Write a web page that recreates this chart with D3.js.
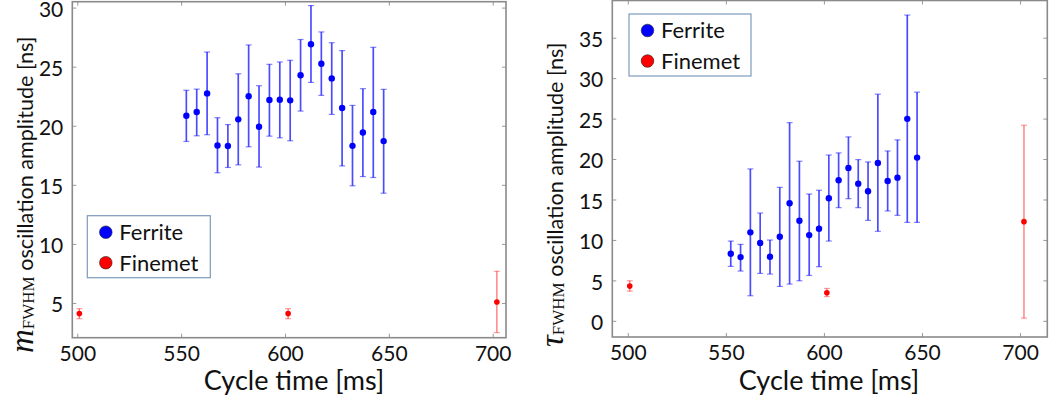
<!DOCTYPE html>
<html>
<head>
<meta charset="utf-8">
<script src="https://cdn.jsdelivr.net/npm/d3@7/dist/d3.min.js"></script>
<style>
  html, body { margin: 0; padding: 0; background: #fff; }
  svg { display: block; }
  text { font-family: Lato, "Open Sans", sans-serif; fill: #111; }
</style>
</head>
<body>
<svg id="chart" width="1051" height="403"></svg>
<script>
// Cycle times of the measurements [ms]
const ferriteCycle = [552.5, 557.5, 562.5, 567.5, 572.5, 577.5, 582.5, 587.5, 592.5, 597.5,
                      602.5, 607.5, 612.5, 617.5, 622.5, 627.5, 632.5, 637.5, 642.5, 647.5];
const finemetCycle = [501, 601.5, 702];

// m_FWHM oscillation amplitude [ns]: value, lower and upper end of error bar
const mFerrite    = [20.85, 21.16, 22.74, 18.33, 18.28, 20.54, 22.5, 19.92, 22.18, 22.2,
                     22.15, 24.27, 26.9, 25.25, 24.01, 21.5, 18.3, 19.43, 21.16, 18.7];
const mFerriteLo  = [18.67, 19.15, 19.24, 16.02, 16.47, 16.69, 18.22, 16.5, 19.12, 18.98,
                     18.73, 21.24, 23.67, 22.57, 20.96, 16.6, 14.92, 15.7, 15.62, 14.29];
const mFerriteHi  = [23.0, 23.1, 26.24, 20.68, 20.1, 24.4, 26.84, 23.39, 25.2, 25.4,
                     25.54, 27.3, 30.17, 27.94, 27.03, 26.36, 21.72, 23.14, 26.64, 23.08];
const mFinemet    = [4.1, 4.1, 5.08];
const mFinemetLo  = [3.67, 3.67, 2.49];
const mFinemetHi  = [4.52, 4.52, 7.68];

// tau_FWHM oscillation amplitude [ns]: value, lower and upper end of error bar
const tFerrite    = [8.3, 7.88, 10.94, 9.62, 7.92, 10.4, 14.53, 12.38, 10.6, 11.39,
                     15.15, 17.38, 18.9, 16.96, 16.01, 19.52, 17.29, 17.7, 24.97, 20.18];
const tFerriteLo  = [6.73, 6.15, 3.1, 5.86, 5.78, 4.25, 4.54, 4.95, 5.61, 6.69,
                     9.86, 13.99, 15.1, 13.99, 12.42, 11.06, 13.58, 13.04, 12.17, 12.17];
const tFerriteHi  = [9.86, 9.45, 18.78, 13.33, 9.99, 16.5, 24.5, 19.73, 15.68, 16.14,
                     20.5, 20.76, 22.74, 19.93, 19.64, 28.02, 21.0, 22.37, 37.8, 28.27];
const tFinemet    = [4.29, 3.47, 12.26];
const tFinemetLo  = [3.67, 3.0, 0.33];
const tFinemetHi  = [4.95, 4.0, 24.18];

// Tick values
const xTicks  = [500, 550, 600, 650, 700];
const mTicks  = [5, 10, 15, 20, 25, 30];
const tTicks  = [0, 5, 10, 15, 20, 25, 30, 35];

const seriesNames = ["Ferrite", "Finemet"];
const seriesColors = ["#0000ff", "#ff0000"];

const svg = d3.select("#chart");

function pack(xs, v, lo, hi) {
  return xs.map((x, i) => ({ x: x, v: v[i], lo: lo[i], hi: hi[i] }));
}

function drawPanel(opt) {
  const g = svg.append("g");
  const x = d3.scaleLinear().domain(opt.xDomain).range([opt.left, opt.right]);
  const y = d3.scaleLinear().domain(opt.yDomain).range([opt.bottom, opt.top]);

  // inward ticks on all four sides
  const tickLen = 4;
  const tickColor = "#999";
  const axB = d3.axisBottom(x).tickValues(xTicks).tickSizeInner(-tickLen).tickSizeOuter(0).tickPadding(8);
  const axT = d3.axisTop(x).tickValues(xTicks).tickSizeInner(-tickLen).tickSizeOuter(0).tickFormat("");
  const axL = d3.axisLeft(y).tickValues(opt.yTicks).tickSizeInner(-tickLen).tickSizeOuter(0).tickPadding(9);
  const axR = d3.axisRight(y).tickValues(opt.yTicks).tickSizeInner(-tickLen).tickSizeOuter(0).tickFormat("");

  const styleAxis = (sel) => {
    sel.select(".domain").remove();
    sel.selectAll(".tick line").attr("stroke", tickColor).attr("stroke-width", 1);
    sel.selectAll(".tick text").attr("font-family", "Lato, sans-serif").attr("font-size", 21).attr("fill", "#111");
  };
  g.append("g").attr("transform", `translate(0,${opt.bottom})`).call(axB).call(styleAxis);
  g.append("g").attr("transform", `translate(0,${opt.top})`).call(axT).call(styleAxis);
  g.append("g").attr("transform", `translate(${opt.left},0)`).call(axL).call(styleAxis)
    .selectAll(".tick text").attr("dy", "0.42em");
  g.append("g").attr("transform", `translate(${opt.right},0)`).call(axR).call(styleAxis);

  // frame
  g.append("rect")
    .attr("x", opt.left).attr("y", opt.top)
    .attr("width", opt.right - opt.left).attr("height", opt.bottom - opt.top)
    .attr("fill", "none").attr("stroke", "#8a8a8a").attr("stroke-width", 1.6);

  // error bars + markers
  opt.series.forEach((s, si) => {
    const col = seriesColors[si];
    const eg = g.append("g");
    const bars = eg.selectAll("g.eb").data(s.data).join("g").attr("class", "eb");
    const cap = 3;
    bars.append("line")
      .attr("x1", d => x(d.x)).attr("x2", d => x(d.x))
      .attr("y1", d => y(d.lo)).attr("y2", d => y(d.hi))
      .attr("stroke", col).attr("stroke-opacity", s.barOpacity).attr("stroke-width", s.barWidth);
    [d => d.lo, d => d.hi].forEach(acc => {
      bars.append("line")
        .attr("x1", d => x(d.x) - cap).attr("x2", d => x(d.x) + cap)
        .attr("y1", d => y(acc(d))).attr("y2", d => y(acc(d)))
        .attr("stroke", col).attr("stroke-opacity", s.barOpacity * 0.7).attr("stroke-width", 1.2);
    });
    eg.selectAll("circle").data(s.data).join("circle")
      .attr("cx", d => x(d.x)).attr("cy", d => y(d.v))
      .attr("r", s.r).attr("fill", col);
  });

  // legend
  const lg = g.append("g");
  lg.append("rect")
    .attr("x", opt.legend.x).attr("y", opt.legend.y)
    .attr("width", opt.legend.w).attr("height", opt.legend.h)
    .attr("fill", "#fff").attr("stroke", "#7d9bbd").attr("stroke-width", 1.2);
  seriesNames.forEach((name, i) => {
    const cy = opt.legend.y + 16.5 + i * 30.5;
    lg.append("circle")
      .attr("cx", opt.legend.x + 18.5).attr("cy", cy).attr("r", 6.3)
      .attr("fill", seriesColors[i]).attr("stroke", "#222").attr("stroke-width", 0.6);
    lg.append("text")
      .attr("x", opt.legend.x + 32).attr("y", cy).attr("dy", "0.36em")
      .attr("font-size", 22).text(name);
  });

  // x title
  g.append("text")
    .attr("x", opt.xTitleX).attr("y", 390)
    .attr("text-anchor", "middle").attr("font-size", 27)
    .text("Cycle time [ms]");

  // y title with math symbol and subscript
  const yt = g.append("text")
    .attr("transform", `translate(${opt.yTitleX},${opt.yTitleY}) rotate(-90)`)
    .attr("text-anchor", "start");
  yt.append("tspan")
    .attr("font-family", "'Liberation Serif', 'DejaVu Serif', serif")
    .attr("font-style", "italic").attr("font-size", 33)
    .text(opt.symbol);
  yt.append("tspan")
    .attr("font-family", "'Liberation Serif', 'DejaVu Serif', serif")
    .attr("font-size", 17).attr("dy", 1)
    .text("FWHM");
  yt.append("tspan")
    .attr("font-size", 21.6).attr("dy", -1)
    .text(" oscillation amplitude [ns]");
}

drawPanel({
  left: 72.3, right: 506, top: 1.7, bottom: 337.7,
  xDomain: [497.6, 706.4], yDomain: [2.06, 30.5], yTicks: mTicks,
  series: [
    { data: pack(ferriteCycle, mFerrite, mFerriteLo, mFerriteHi), r: 3.2, barOpacity: 0.7, barWidth: 1.7 },
    { data: pack(finemetCycle, mFinemet, mFinemetLo, mFinemetHi), r: 2.8, barOpacity: 0.55, barWidth: 1.3 }
  ],
  legend: { x: 87.3, y: 215.7, w: 123, h: 62 },
  xTitleX: 294, yTitleX: 33, yTitleY: 353, symbol: "m"
});

drawPanel({
  left: 612.3, right: 1047.3, top: 0.5, bottom: 337,
  xDomain: [492.1, 713.9], yDomain: [-2.0, 39.6], yTicks: tTicks,
  series: [
    { data: pack(ferriteCycle, tFerrite, tFerriteLo, tFerriteHi), r: 3.2, barOpacity: 0.7, barWidth: 1.7 },
    { data: pack(finemetCycle, tFinemet, tFinemetLo, tFinemetHi), r: 2.8, barOpacity: 0.55, barWidth: 1.3 }
  ],
  legend: { x: 629, y: 14, w: 122, h: 62 },
  xTitleX: 829, yTitleX: 563, yTitleY: 347, symbol: "τ"
});
</script>
</body>
</html>
